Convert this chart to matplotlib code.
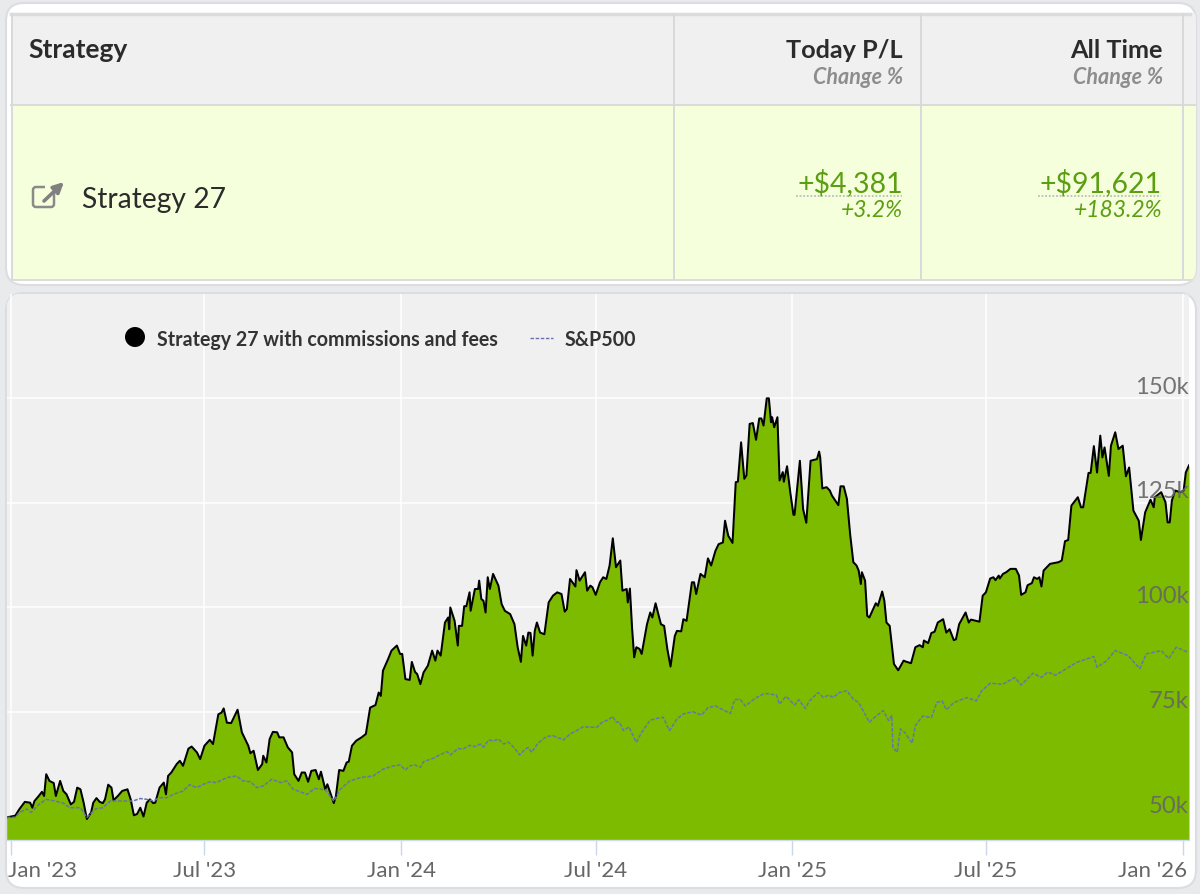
import pandas as pd
import matplotlib
matplotlib.use("Agg")
import matplotlib.pyplot as plt
from matplotlib.patches import FancyBboxPatch, Rectangle, Circle, FancyArrowPatch
from matplotlib.lines import Line2D
from matplotlib.transforms import Affine2D

plt.rcParams['font.family'] = ['Lato', 'DejaVu Sans']

# days since 1 Jan 2023, account value in $k
strategy_days = [
    -4, 4, 8, 13, 18, 20, 22, 26, 29, 31, 33, 36, 40, 42, 46, 49, 52, 56, 59, 62, 65, 68, 71, 75, 77, 80, 83, 86, 88,
    91, 94, 96, 100, 104, 109, 112, 115, 118, 121, 124, 127, 130, 133, 135, 139, 143, 145, 147, 150, 155, 158, 161,
    166, 169, 174, 177, 181, 186, 189, 194, 197, 199, 202, 206, 212, 216, 222, 224, 227, 231, 235, 236, 239, 242,
    245, 249, 251, 255, 259, 263, 265, 269, 272, 275, 278, 281, 285, 288, 290, 294, 296, 302, 304, 307, 311, 314,
    316, 319, 323, 328, 332, 336, 341, 344, 346, 348, 353, 356, 361, 364,
    366, 369, 373, 375, 378, 380, 383, 386, 390, 394, 397, 399, 402, 406, 409, 410, 411, 415, 418, 419, 422, 424,
    426, 429, 430, 434, 437, 438, 440, 442, 444, 446, 448, 451, 456, 459, 462, 467, 471, 474, 477, 479, 482, 484,
    486, 488, 490, 492, 495, 499, 503, 507, 511, 515, 518, 520, 523, 528, 529, 532, 537, 539, 542, 544, 547, 551,
    554, 557, 560, 563, 566, 570, 572, 576, 577, 579, 581, 583, 585, 588, 590, 595, 598, 600, 603, 608, 611, 614,
    617, 621, 623, 627, 629, 632, 637, 639, 641, 645, 649, 652, 655, 659, 662, 666, 668, 671, 675, 678, 680, 683,
    686, 688, 691, 694, 697, 700, 702, 704, 707, 709, 711, 712, 714, 717, 719, 722, 723, 726, 729, 732, 733, 736,
    738, 741, 744, 748, 754, 756, 757, 759, 763, 766, 768, 774, 776, 779, 782, 785, 788, 791, 793, 795, 796, 799,
    801, 803, 809, 811, 815, 817, 819, 822, 826, 830, 835, 838, 842, 846, 850, 853, 854, 858, 861, 864, 867, 872,
    875, 878, 882, 884, 887, 893, 896, 898, 906, 909, 912, 916, 919, 921, 924, 925, 928, 931, 935, 940, 943, 945,
    949, 951, 955, 957, 960, 962, 964, 966, 972, 980, 983, 986, 989, 992, 998, 1001, 1003, 1008, 1010, 1013, 1016,
    1019, 1021, 1023, 1027, 1029, 1033, 1036, 1040, 1043, 1046, 1050, 1055, 1057, 1061, 1066, 1069, 1070, 1076,
    1080, 1082, 1084, 1086, 1089, 1094, 1097, 1099, 1102,
]
strategy_values = [
    49.9, 50.3, 51.9, 53.6, 53.4, 52.2, 53.8, 55.0, 56.0, 55.0, 60.2, 58.6, 58.1, 55.0, 58.6, 56.2, 55.4, 53.0, 53.6,
    57.0, 56.6, 53.4, 49.5, 51.1, 53.4, 54.5, 53.6, 53.3, 54.2, 57.7, 57.0, 54.0, 55.0, 56.2, 56.6, 54.2, 50.4, 50.7,
    52.2, 50.1, 53.4, 54.2, 53.3, 53.4, 57.0, 58.2, 55.4, 59.8, 60.6, 62.6, 63.4, 62.2, 66.3, 66.8, 65.4, 63.8, 67.0,
    68.4, 67.4, 74.5, 74.9, 75.9, 72.5, 72.4, 75.6, 70.2, 67.0, 65.2, 65.8, 61.2, 62.6, 64.6, 63.0, 68.6, 70.3, 70.2,
    69.0, 69.0, 66.6, 65.4, 60.2, 58.6, 60.6, 60.6, 58.4, 61.0, 61.2, 59.0, 60.8, 56.6, 57.8, 53.3, 55.0, 61.2, 61.0,
    63.0, 63.2, 67.0, 68.2, 69.0, 69.8, 76.1, 76.7, 79.7, 78.9, 84.9, 87.8, 89.7, 90.9, 88.9,
    88.9, 82.9, 82.7, 87.0, 84.6, 84.1, 81.7, 84.5, 86.1, 89.7, 87.3, 89.7, 88.5, 96.4, 97.6, 94.8, 100.0, 96.8, 90.9,
    95.6, 95.6, 100.3, 100.3, 103.6, 99.2, 104.4, 104.4, 106.4, 102.0, 101.6, 98.8, 107.2, 104.4, 108.0, 105.2, 100.8,
    99.2, 98.4, 96.0, 90.5, 87.0, 93.2, 90.9, 94.0, 93.9, 88.5, 94.4, 96.4, 94.0, 93.6, 101.2, 102.8, 103.6, 103.2,
    99.0, 99.6, 106.8, 105.0, 108.9, 106.4, 108.4, 104.0, 105.2, 104.8, 103.0, 106.0, 107.2, 106.8, 110.0, 116.5,
    109.6, 111.2, 104.0, 104.4, 101.2, 104.5, 95.2, 88.1, 90.5, 90.1, 88.9, 96.0, 98.8, 97.6, 101.0, 96.0, 95.6, 90.1,
    85.9, 93.2, 94.4, 94.3, 97.2, 96.8, 106.0, 106.0, 103.2, 108.0, 107.2, 111.7, 110.0, 113.5, 115.1, 115.5, 120.7,
    117.1, 115.4, 129.9, 130.0, 139.4, 130.7, 131.5, 143.8, 144.0, 140.0, 145.1, 145.1, 143.4, 149.9, 149.9, 144.2,
    145.4, 143.0, 145.4, 130.3, 132.3, 130.0, 133.7, 127.5, 122.1, 122.1, 129.9,
    135.0, 123.5, 120.2, 135.0, 135.4, 137.2, 135.8, 128.4, 128.7, 127.9, 126.7, 124.4, 128.9, 128.9, 125.9, 117.5,
    110.8, 110.0, 108.8, 105.6, 108.4, 106.4, 98.0, 97.6, 101.0, 100.4, 103.8, 101.6, 96.4, 95.6, 86.5, 85.0, 87.3,
    87.0, 86.7, 90.5, 91.0, 90.5, 92.1, 91.5, 93.9, 94.2, 96.4, 97.2, 94.0, 94.8, 92.2, 92.4, 96.0, 98.8, 96.4, 97.1,
    96.6, 102.8, 103.6, 106.9, 107.2, 106.5, 107.6, 106.9, 108.0, 108.4, 109.2, 109.2, 107.6, 103.0, 103.6, 105.3,
    105.8, 107.2, 106.8, 107.2, 105.0, 108.8, 110.4, 110.8, 111.2, 115.8, 116.1, 124.3, 126.3, 123.9, 123.9, 132.1,
    132.1, 138.5, 132.2, 141.0, 135.8, 138.2, 131.4, 138.6, 141.8, 137.8, 138.6, 131.3, 133.4, 123.1, 120.7, 116.1,
    122.7, 125.7, 123.9, 126.3, 127.5, 125.1, 120.3, 120.3, 125.5, 127.9, 127.5, 127.9, 132.2, 133.9,
]

sp500_days = [
    -4, 4, 8, 15, 19, 26, 33, 41, 49, 55, 65, 71, 79, 86, 93, 102, 110, 114, 121, 127, 133, 139, 146, 152, 161, 167,
    174, 180, 186, 192, 202, 211, 217, 224, 230, 236, 244, 252, 258, 264, 277, 284, 294, 302, 308, 317, 327, 339, 348,
    358, 364, 369, 373, 378, 383, 386, 395, 401, 408, 411, 418, 423, 429, 434, 439, 442, 447, 451, 456, 461, 465, 470,
    476, 481, 484, 487, 493, 501, 507, 517, 523, 529, 535, 545, 548, 553, 559, 563, 566, 569, 573, 578, 585, 590, 598,
    604, 610, 616, 623, 629, 638, 646, 652, 659, 665, 673, 677, 682, 687, 696, 705, 716, 719, 725, 733, 737, 743, 747,
    755, 760, 765, 769, 775, 782, 788, 793, 797, 803, 808, 816, 821, 824, 825, 829, 832, 836, 843, 846, 853, 861, 866,
    871, 875, 882, 894, 903, 908, 916, 928, 939, 945, 956, 964, 970, 977, 997, 1013, 1016, 1025, 1033, 1045, 1056,
    1062, 1076, 1083, 1090, 1101,
]
sp500_values = [
    49.9, 49.9, 51.1, 51.9, 51.1, 53.0, 54.2, 53.8, 53.3, 52.2, 52.2, 49.9, 51.9, 52.2, 53.8, 53.8, 53.8, 53.8, 54.4,
    54.2, 53.8, 54.6, 54.6, 55.4, 56.2, 57.7, 57.0, 57.8, 58.4, 58.2, 59.4, 59.8, 58.6, 58.4, 57.0, 57.4, 59.0, 58.2,
    58.6, 56.6, 55.4, 56.8, 56.5, 53.8, 56.6, 58.6, 59.4, 59.8, 61.4, 62.2, 62.4, 61.2, 62.2, 62.4, 61.8, 63.2, 64.0,
    64.8, 65.6, 64.8, 66.3, 66.2, 67.1, 66.8, 67.4, 66.7, 68.4, 68.1, 68.6, 67.4, 67.9, 66.7, 64.8, 66.2, 66.6, 65.4,
    67.6, 69.2, 69.4, 68.4, 69.8, 70.6, 71.5, 71.4, 71.4, 72.6, 73.2, 74.0, 72.6, 72.7, 70.6, 71.5, 67.8, 70.2, 73.1,
    73.5, 73.8, 70.6, 73.4, 74.6, 75.1, 74.3, 76.1, 76.5, 75.7, 74.7, 78.0, 78.1, 76.5, 78.3, 79.5, 79.1, 76.9, 78.8,
    76.7, 78.0, 75.9, 77.7, 79.7, 78.5, 79.1, 78.5, 79.7, 80.1, 78.1, 77.3, 75.4, 72.6, 73.8, 75.4, 73.0, 74.2, 66.6,
    65.4, 71.0, 70.2, 67.6, 71.8, 74.1, 73.7, 77.3, 77.7, 75.6, 77.3, 78.5, 77.7, 80.1, 81.9, 81.7, 83.3, 81.5, 84.3,
    83.3, 84.6, 83.8, 86.9, 88.3, 85.7, 87.3, 89.7, 88.5, 85.4, 88.9, 89.7, 87.8, 90.5, 89.3,
]

x_tick_dates = ['2023-01-01', '2023-07-01', '2024-01-01', '2024-07-01', '2025-01-01', '2025-07-01', '2026-01-01']
x_tick_labels = ["Jan '23", "Jul '23", "Jan '24", "Jul '24", "Jan '25", "Jul '25", "Jan '26"]
y_ticks = [50, 75, 100, 125, 150]
y_tick_labels = ['50k', '75k', '100k', '125k', '150k']

start = pd.Timestamp('2023-01-01')
strategy_dates = start + pd.to_timedelta(strategy_days, unit='D')
sp500_dates = start + pd.to_timedelta(sp500_days, unit='D')

W, H = 1200, 895
fig = plt.figure(figsize=(W / 100, H / 100), dpi=100, facecolor='#e9eaec')
# page furniture is placed in image pixels, y going down
px = Affine2D().scale(1 / W, -1 / H).translate(0, 1) + fig.transFigure


def card(x0, y0, x1, y1):
    p = FancyBboxPatch((x0 + 18, y0 + 18), x1 - x0 - 36, y1 - y0 - 36, boxstyle='round,pad=18,rounding_size=18',
                       transform=px, facecolor='white', edgecolor='#dcdde0', linewidth=1.5, zorder=0)
    fig.add_artist(p)
    return p


def rect(x0, y0, x1, y1, color, clip=None):
    r = Rectangle((x0, y0), x1 - x0, y1 - y0, transform=px, facecolor=color, edgecolor='none', zorder=1)
    fig.add_artist(r)
    if clip is not None:
        r.set_clip_path(clip)


def vline(x, y0, y1, color='#d9d9da', lw=1.4):
    fig.add_artist(Line2D([x, x], [y0, y1], transform=px, color=color, lw=lw, zorder=2))


# summary table
table_card = card(6, 4, 1196, 286)
rect(11, 14, 1196, 105, '#f0f0f1', table_card)
rect(11, 107, 1196, 280, '#f6ffdc', table_card)
fig.add_artist(Line2D([11, 1194], [106, 106], transform=px, color='#d9d9da', lw=1.4, zorder=2))
fig.add_artist(Line2D([11, 1190], [15, 15], transform=px, color='#dcdcdd', lw=2.5, zorder=2))
fig.add_artist(Line2D([11, 1190], [281, 281], transform=px, color='#dcdcdd', lw=1.4, zorder=2))
vline(12, 15, 280)
vline(674, 15, 280)
vline(921, 15, 280)
vline(1183, 15, 280)

dark = '#2b2b2b'
grey = '#8d8d8d'
green = '#5c9e12'
fig.text(28, 50, 'Strategy', transform=px, fontsize=19, fontweight='bold', color=dark, va='center', zorder=3)
fig.text(903, 50, 'Today P/L', transform=px, fontsize=18.2, fontweight='bold', color=dark, ha='right', va='center', zorder=3)
fig.text(1163, 50, 'All Time', transform=px, fontsize=18.2, fontweight='bold', color=dark, ha='right', va='center', zorder=3)
for x in [903, 1163]:
    fig.text(x, 78, 'Change %', transform=px, fontsize=15.5, fontweight='bold', fontstyle='italic', color=grey,
             ha='right', va='center', zorder=3)
fig.text(82, 200, 'Strategy 27', transform=px, fontsize=20.3, color=dark, va='center', zorder=3)
fig.text(903, 183, '+$4,381', transform=px, fontsize=20.5, color=green, ha='right', va='center', zorder=3)
fig.text(1162, 183, '+$91,621', transform=px, fontsize=20.5, color=green, ha='right', va='center', zorder=3)
fig.text(903, 211, '+3.2%', transform=px, fontsize=16.5, fontstyle='italic', color=green, ha='right', va='center', zorder=3)
fig.text(1162, 211, '+183.2%', transform=px, fontsize=16.5, fontstyle='italic', color=green, ha='right', va='center', zorder=3)
for x0, x1 in [(796, 902), (1038, 1161)]:
    fig.add_artist(Line2D([x0, x1], [197, 197], transform=px, color='#bdbdbd', lw=1.3, ls=(0, (1, 1)), zorder=3))

# external link icon
fig.add_artist(FancyBboxPatch((35, 190), 17, 16, boxstyle='round,pad=2,rounding_size=3', transform=px,
                              facecolor='none', edgecolor='#8a8a8a', linewidth=1.8, zorder=3))
fig.add_artist(Rectangle((45, 184), 11, 10, transform=px, facecolor='#f6ffdc', edgecolor='none', zorder=3.5))
fig.add_artist(FancyArrowPatch((44, 202), (64, 183), transform=px, arrowstyle='-|>', mutation_scale=15,
                               color='#808080', linewidth=2.6, shrinkA=0, shrinkB=0, zorder=4))

# chart card and plot
chart_card = card(6, 294, 1196, 889)

ax = fig.add_axes([7 / W, 1 - 841 / H, (1189 - 7) / W, (841 - 295) / H], zorder=5)
ax.set_facecolor('#f0f0f1')
ax.patch.set_clip_path(chart_card)

ax.fill_between(strategy_dates, strategy_values, 40, color='#7cbb00', lw=0, zorder=2)
ax.plot(strategy_dates, strategy_values, color='black', lw=1.45, zorder=3)
ax.plot(sp500_dates, sp500_values, color='#6875a8', lw=1.1, ls=(0, (2.5, 1.0)), zorder=4)

ax.set_xlim(start + pd.Timedelta(days=-3.7), start + pd.Timedelta(days=1102))
ax.set_ylim(44.5, 174.8)
ax.set_axisbelow(True)
ax.grid(True, color='white', lw=1.1)
for s in ax.spines.values():
    s.set_visible(False)
ax.spines['bottom'].set_visible(True)
ax.spines['bottom'].set_color('#cfdcec')
ax.spines['bottom'].set_linewidth(1.0)

ax.set_xticks(pd.to_datetime(x_tick_dates))
ax.set_xticklabels(x_tick_labels)
ax.set_yticks(y_ticks)
ax.tick_params(axis='x', length=10.5, width=1, color='#ccd6eb', labelsize=16, labelcolor='#666666', pad=4)
ax.tick_params(axis='y', length=0, labelleft=False)

# first and last date labels are pulled inside the card
labels = ax.get_xticklabels()
labels[0].set_ha('left')
labels[0].set_transform(labels[0].get_transform() + Affine2D().translate(-3, 0))
labels[-1].set_ha('right')
labels[-1].set_transform(labels[-1].get_transform() + Affine2D().translate(5, 0))

# value labels sit on top of the fill, just above their gridline
for v, label in zip(y_ticks, y_tick_labels):
    ax.annotate(label, (1, v), xycoords=ax.get_yaxis_transform(), xytext=(0, 8.5), textcoords='offset points',
                ha='right', va='center', fontsize=17.2, color='#666666', alpha=0.9, zorder=6)

# legend
ax.add_artist(Circle((135, 338), 10, transform=px, facecolor='black', edgecolor='none', clip_on=False, zorder=7))
ax.text(157, 340, 'Strategy 27 with commissions and fees', transform=px, fontsize=14.1, fontweight='bold',
        color='#333333', va='center', zorder=7)
ax.add_artist(Line2D([530, 553], [339, 339], transform=px, color='#6a6fb0', lw=1, ls=(0, (2.5, 1.2)), zorder=7))
ax.text(565, 340, 'S&P500', transform=px, fontsize=14.1, fontweight='bold', color='#333333', va='center', zorder=7)

fig.savefig('out.png', dpi=100, facecolor=fig.get_facecolor())
